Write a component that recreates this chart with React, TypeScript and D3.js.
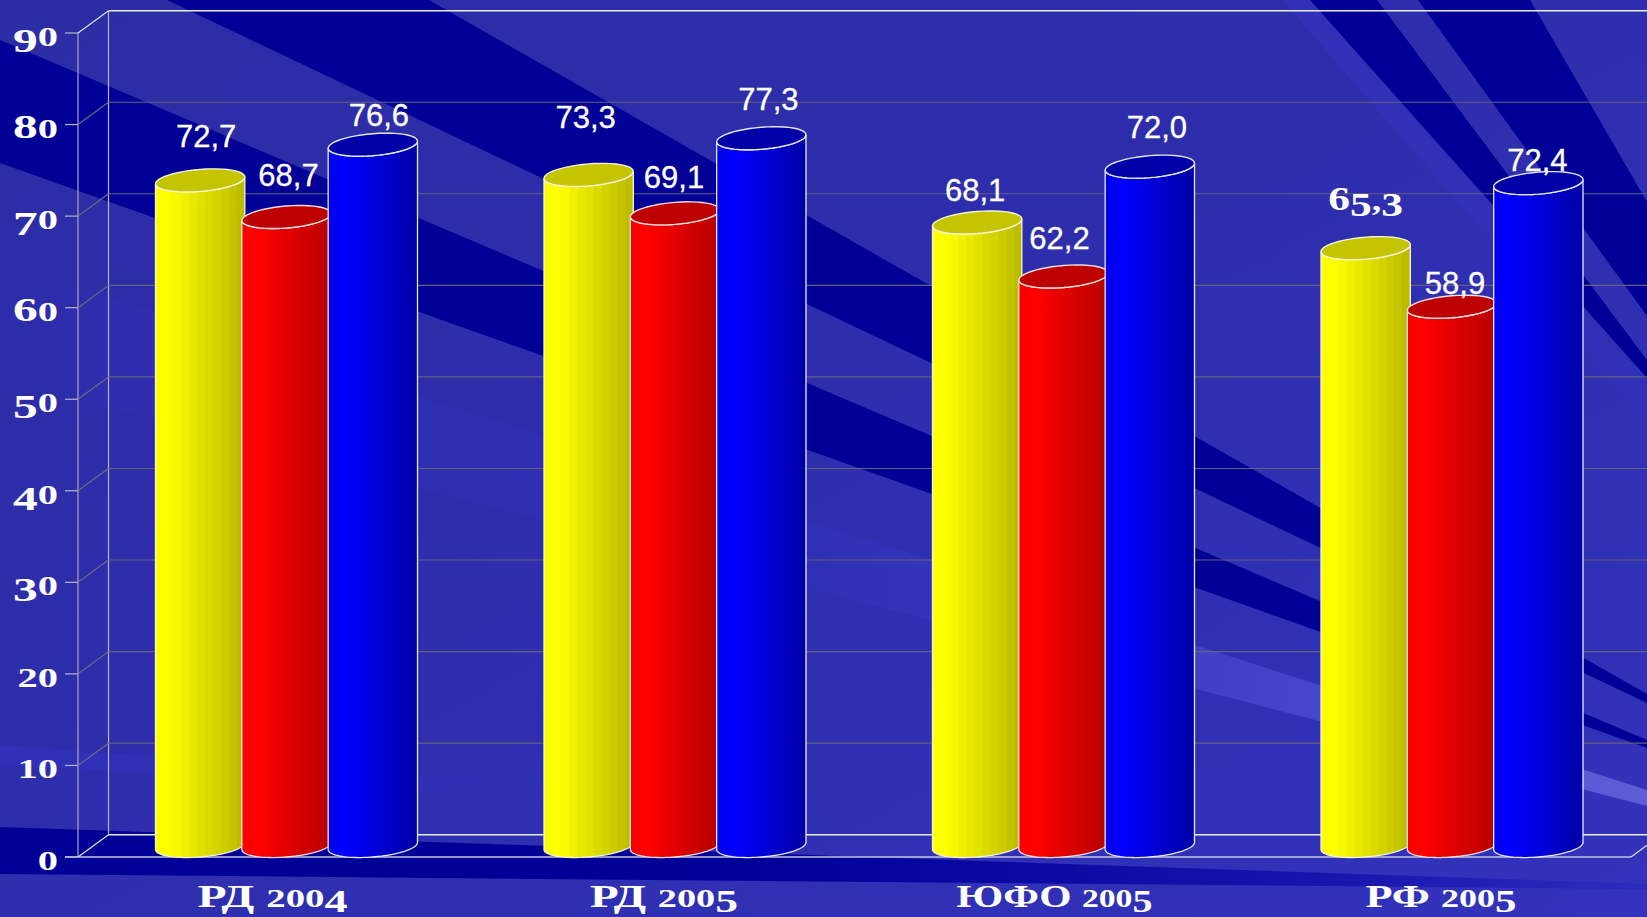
import React, { useEffect } from "react";
import * as d3 from "d3";

const W = 1647;
const H = 917;

const categories = ["РД 2004", "РД 2005", "ЮФО 2005", "РФ 2005"];
const seriesNames = ["yellow", "red", "blue"];
const yellowValues = [72.7, 73.3, 68.1, 65.3];
const redValues = [68.7, 69.1, 62.2, 58.9];
// the drawn height of the third blue bar stands higher than its printed label in the source picture
const blueValues = [76.6, 77.3, 74.2, 72.4];
const yellowLabels = ["72,7", "73,3", "68,1", "65,3"];
const redLabels = ["68,7", "69,1", "62,2", "58,9"];
const blueLabels = ["76,6", "77,3", "72,0", "72,4"];
const valueTicks = [0, 10, 20, 30, 40, 50, 60, 70, 80, 90];
const seriesValues = [yellowValues, redValues, blueValues];
const seriesLabels = [yellowLabels, redLabels, blueLabels];

// hand placement of the value labels relative to the top of each bar: [dx, dy] per group, per series
const labelNudge = [
  [[6, -33], [2, -31], [6, -19]],
  [[-3, -47], [-1, -25], [7, -28]],
  [[-2, -22], [-4, -28], [7, -29]],
  [[0, -38], [3, -13], [-1, -12]],
];
const categoryWidths = [150, 148, 196, 151];
const categoryNudge = [-3, 0, 2, 0];

const seriesStyle = [
  { id: "yellow", edge: "#ffff00", peak: "#ffff00", dark: "#bdbd00", top: "#c4c400", steps: 9, stroke: "#f4f4d8" },
  { id: "red", edge: "#f40000", peak: "#ff0000", dark: "#b60000", top: "#bd0000", steps: 40, stroke: "#f0e0e0" },
  { id: "blue", edge: "#0000e6", peak: "#0000ff", dark: "#0000a6", top: "#0000a8", steps: 40, stroke: "#e8e8f4" },
];

// background rays, decorative picture layer
const darkRays = [
  [[167, 0], [429, 0], [1647, 694], [1647, 703]],
  [[0, 40], [1647, 740], [1647, 748], [0, 163]],
  [[1310, 0], [1377, 0], [1647, 360], [1647, 378]],
  [[1418, 0], [1530, 0], [1647, 202], [1647, 316]],
];

const yFront = d3.scaleLinear().domain([0, 90]).range([857, 33]);
const depthX = 30.5;
const depthY = -22.3;
const xLeft = 78;
const xRightFront = 1631;
const group = d3.scaleBand().domain(categories).range([155.5, 155.5 + 4 * 388.5]);
const inner = d3.scaleBand().domain(seriesNames).range([0, 259]);
const barW = inner.bandwidth() + 3;
const ry = 11;
const skew = 3.5;
const midDepth = -11;

const lineGen = d3.line<[number, number]>();
const poly = (pts: number[][]) => lineGen(pts as [number, number][]) + "Z";

function rim(cx: number, cy: number, from: number, to: number): [number, number][] {
  const n = 48;
  return d3.range(n + 1).map((i) => {
    const t = from + ((to - from) * i) / n;
    return [cx + (barW / 2) * Math.cos(t), cy + ry * Math.sin(t) - skew * Math.cos(t)] as [number, number];
  });
}

function stops(s: (typeof seriesStyle)[number]) {
  const out: React.ReactElement[] = [];
  out.push(<stop key="e" offset="0" stopColor={s.edge} />);
  out.push(<stop key="p" offset="0.16" stopColor={s.peak} />);
  const mix = d3.interpolateRgb(s.peak, s.dark);
  const start = 0.2;
  d3.range(s.steps).forEach((i) => {
    const a = start + ((1 - start) * i) / s.steps;
    const b = start + ((1 - start) * (i + 1)) / s.steps;
    const c = mix((i + 1) / s.steps);
    out.push(<stop key={"a" + i} offset={a} stopColor={c} />);
    out.push(<stop key={"b" + i} offset={b} stopColor={c} />);
  });
  return out;
}

const serif = "'Liberation Serif', serif";
const sans = "'Liberation Sans', Arial, sans-serif";

// old-style figures: 6 and 8 rise above the x-height, 3 4 5 7 9 hang below the baseline.
// Relative dy keeps the whole string in one text chunk, so anchoring still works.
function oldStyle(str: string, small: number, tall: number, drop: number) {
  let current = 0;
  return Array.from(str).map((ch, i) => {
    const isDrop = "34579".includes(ch);
    const isTall = "68".includes(ch);
    const want = isDrop ? drop : 0;
    const dy = want - current;
    current = want;
    return (
      <tspan key={i} dy={dy} fontSize={isDrop || isTall ? tall : small}>
        {ch}
      </tspan>
    );
  });
}

export default function App() {
  useEffect(() => {
    document.body.style.margin = "0";
    document.body.style.overflow = "hidden";
  }, []);
  const y0 = yFront(0);
  return (
    <svg width={W} height={H} viewBox={`0 0 ${W} ${H}`} style={{ display: "block" }}>
      <defs>
        <linearGradient id="bg" x1="0" y1="0" x2="1" y2="1">
          <stop offset="0" stopColor="#2c2ca4" />
          <stop offset="0.5" stopColor="#2e2eae" />
          <stop offset="1" stopColor="#3232bc" />
        </linearGradient>
        <linearGradient id="rayLight" gradientUnits="userSpaceOnUse" x1="0" y1="0" x2={W} y2="0">
          <stop offset="0" stopColor="#2d2dac" />
          <stop offset="0.5" stopColor="#3030b6" />
          <stop offset="0.76" stopColor="#4242ca" />
          <stop offset="1" stopColor="#5e5ed6" />
        </linearGradient>
        <linearGradient id="rayBottom" gradientUnits="userSpaceOnUse" x1="0" y1="0" x2={W} y2="0">
          <stop offset="0" stopColor="#000096" />
          <stop offset="0.45" stopColor="#000098" />
          <stop offset="0.8" stopColor="#1515ae" />
          <stop offset="1" stopColor="#2c2cbc" />
        </linearGradient>
        <linearGradient id="rayFaint" gradientUnits="userSpaceOnUse" x1="0" y1="0" x2="1150" y2="0">
          <stop offset="0" stopColor="#3030b8" />
          <stop offset="1" stopColor="#3030b8" stopOpacity="0.2" />
        </linearGradient>
        {seriesStyle.map((s) => (
          <linearGradient key={s.id} id={"bar-" + s.id} x1="0" x2="1" y1="0" y2="0">
            {stops(s)}
          </linearGradient>
        ))}
      </defs>

      <rect width={W} height={H} fill="url(#bg)" />
      <path d={poly([[0, 262], [W, 790], [W, 806], [0, 379]])} fill="url(#rayLight)" />
      <path d={poly([[0, 745], [1150, 832], [0, 764]])} fill="url(#rayFaint)" />
      <path d={poly([[1282, 0], [1310, 0], [W, 383], [W, 420]])} fill="#3131b8" />
      {darkRays.map((r, i) => (
        <path key={i} d={poly(r)} fill="#000096" />
      ))}
      <path d={poly([[0, 827], [W, 884], [W, 889], [0, 874]])} fill="url(#rayBottom)" />

      {/* walls and gridlines */}
      <line x1={xLeft} x2={xLeft} y1={yFront(90)} y2={y0} stroke="#a8a8c0" strokeWidth={1.2} />
      <line x1={xLeft + depthX} x2={xLeft + depthX} y1={yFront(90) + depthY} y2={y0 + depthY} stroke="#b4b4cc" strokeWidth={1.2} />
      {valueTicks.map((v) => {
        const y = yFront(v);
        const edge = v === 0 || v === 90;
        return (
          <g key={v}>
            <line
              x1={xLeft + depthX}
              x2={W}
              y1={y + depthY}
              y2={y + depthY}
              stroke={edge ? "#ececf6" : "#66617a"}
              strokeWidth={edge ? 1.4 : 1.1}
            />
            <line x1={xLeft} x2={xLeft + depthX} y1={y} y2={y + depthY} stroke={edge ? "#e0e0ec" : "#6f6a82"} strokeWidth={1.2} />
            <line x1={65} x2={xLeft} y1={y} y2={y} stroke="#b8b8cc" strokeWidth={1.2} />
            <g transform={`translate(58,${y + 13}) scale(1.5,1)`}>
              <text x={0} y={0} textAnchor="end" fontFamily={serif} fontWeight="bold" fill="#ffffff">
                {oldStyle(String(v), 27, 33, 6)}
              </text>
            </g>
          </g>
        );
      })}
      <line x1={65} x2={xRightFront} y1={y0} y2={y0} stroke="#c4c4d8" strokeWidth={1.4} />
      <line x1={xRightFront} x2={xRightFront + depthX} y1={y0} y2={y0 + depthY} stroke="#e0e0ec" strokeWidth={1.2} />

      {/* bars */}
      {categories.map((c, gi) =>
        seriesNames.map((sn, si) => {
          const s = seriesStyle[si];
          const v = seriesValues[si][gi];
          const left = (group(c) as number) + (inner(sn) as number);
          const cx = left + barW / 2;
          const cyTop = yFront(v) + midDepth;
          const cyBase = y0 + midDepth;
          const topFront = rim(cx, cyTop, Math.PI, 0);
          const baseFront = rim(cx, cyBase, 0, Math.PI);
          const body = (lineGen([...topFront, ...baseFront]) as string) + "Z";
          return (
            <g key={c + sn}>
              <path d={body} fill={`url(#bar-${s.id})`} stroke={s.stroke} strokeWidth={1.3} />
              <path d={(lineGen(rim(cx, cyTop, 0, 2 * Math.PI)) as string) + "Z"} fill={s.top} stroke={s.stroke} strokeWidth={1.4} />
            </g>
          );
        })
      )}

      {/* value labels */}
      {categories.map((c, gi) =>
        seriesNames.map((sn, si) => {
          const v = seriesValues[si][gi];
          const label = seriesLabels[si][gi];
          const left = (group(c) as number) + (inner(sn) as number);
          const [dx, dy] = labelNudge[gi][si];
          const x = left + barW / 2 + dx;
          const y = yFront(v) + midDepth + dy;
          if (gi === 3 && si === 0) {
            return (
              <g key={c + sn} transform={`translate(${x},${y}) scale(1.32,1)`}>
                <text x={0} y={0} textAnchor="middle" fontFamily={serif} fontWeight="bold" fill="#ffffff">
                  {oldStyle(label, 29, 33, 6)}
                </text>
              </g>
            );
          }
          return (
            <text
              key={c + sn}
              x={x}
              y={y}
              textAnchor="middle"
              fontFamily={sans}
              fontSize={31}
              fill="#ffffff"
              stroke="#ffffff"
              strokeWidth={0.3}
            >
              {label}
            </text>
          );
        })
      )}

      {/* category labels */}
      {categories.map((c, gi) => {
        const [name, year] = c.split(" ");
        return (
          <text
            key={c}
            x={(group(c) as number) + 120 + categoryNudge[gi]}
            y={907}
            textAnchor="middle"
            fontFamily={serif}
            fontWeight="bold"
            fontSize={32}
            fill="#ffffff"
            textLength={categoryWidths[gi]}
            lengthAdjust="spacingAndGlyphs"
          >
            {name + " "}
            {oldStyle(year, 26, 31, 5)}
          </text>
        );
      })}
    </svg>
  );
}
